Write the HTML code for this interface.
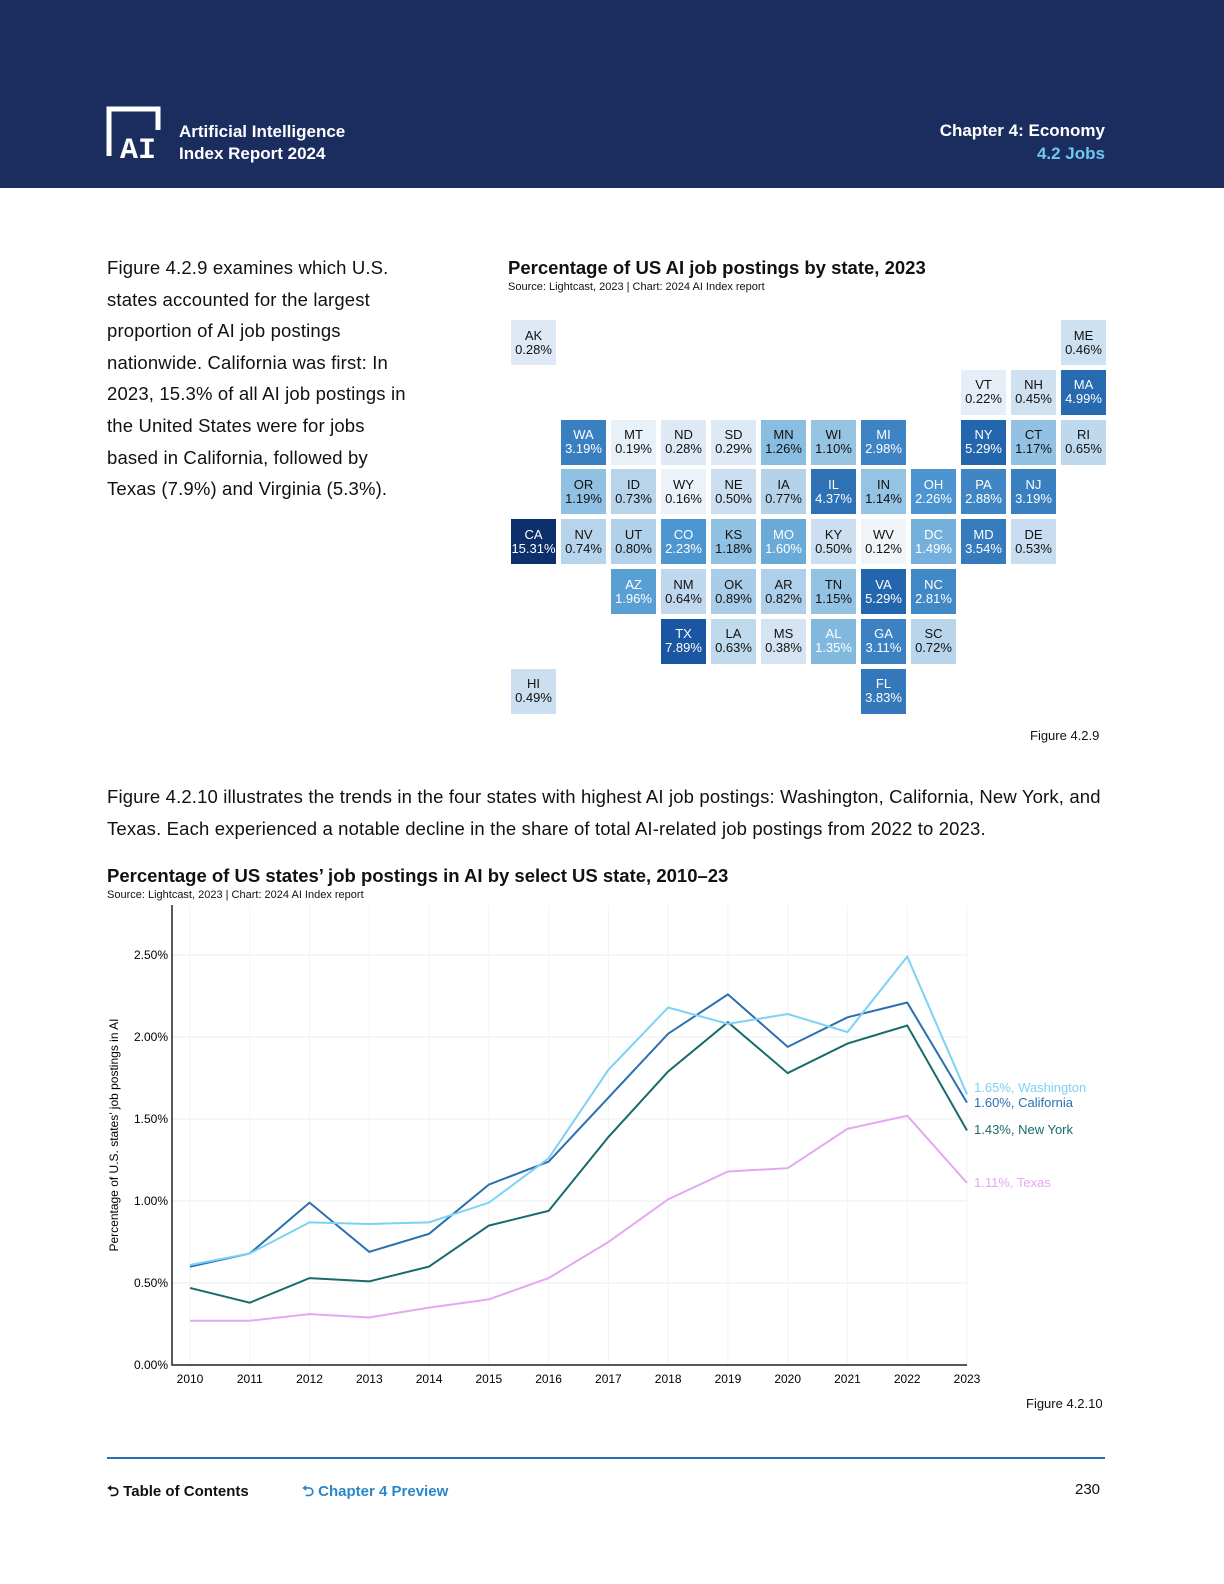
<!DOCTYPE html>
<html><head><meta charset="utf-8">
<style>
body{margin:0;width:1224px;height:1584px;position:relative;background:#fff;font-family:"Liberation Sans",sans-serif;color:#111;overflow:hidden}
.hdr{position:absolute;left:0;top:0;width:1224px;height:188px;background:#1b2d5f}
.abs{position:absolute}
.tile{position:absolute;width:45px;height:45px;font-size:13px;line-height:14px;text-align:center;display:flex;flex-direction:column;justify-content:center}
.p{font-size:18.5px;line-height:31.6px;letter-spacing:0.15px}
</style></head><body>
<div class="hdr">
  <svg class="abs" style="left:106px;top:106px" width="62" height="54">
    <path d="M3 50 V3 H52 V24" stroke="#fff" stroke-width="5" fill="none"/>
    <text x="14" y="52" fill="#fff" font-size="30" font-weight="bold" font-family="Liberation Mono,monospace">AI</text>
  </svg>
  <div class="abs" style="left:179px;top:121px;color:#fff;font-size:17px;font-weight:bold;line-height:22px">Artificial Intelligence<br>Index Report 2024</div>
  <div class="abs" style="right:119px;top:119px;color:#fff;font-size:17px;font-weight:bold;text-align:right;line-height:23px">Chapter 4: Economy<br><span style="color:#6fc6ef">4.2 Jobs</span></div>
</div>

<div class="abs p" style="left:107px;top:252px;width:300px">Figure 4.2.9 examines which U.S. states accounted for the largest proportion of AI job postings nationwide. California was first: In 2023, 15.3% of all AI job postings in the United States were for jobs based in California, followed by Texas (7.9%) and Virginia (5.3%).</div>

<div class="abs" style="left:508px;top:257px;font-size:18.5px;font-weight:bold">Percentage of US AI job postings by state, 2023</div>
<div class="abs" style="left:508px;top:281px;font-size:11px">Source: Lightcast, 2023 | Chart: 2024 AI Index report</div>
<div id="map"></div>
<div class="abs" style="left:1030px;top:728px;font-size:13px">Figure 4.2.9</div>

<div class="abs p" style="left:107px;top:781px;width:1005px">Figure 4.2.10 illustrates the trends in the four states with highest AI job postings: Washington, California, New York, and Texas. Each experienced a notable decline in the share of total AI-related job postings from 2022 to 2023.</div>

<div class="abs" style="left:107px;top:865px;font-size:18.5px;font-weight:bold">Percentage of US states’ job postings in AI by select US state, 2010–23</div>
<div class="abs" style="left:107px;top:889px;font-size:11px">Source: Lightcast, 2023 | Chart: 2024 AI Index report</div>
<svg id="lc" class="abs" style="left:0;top:0" width="1224" height="1584"></svg>
<div class="abs" style="left:1026px;top:1396px;font-size:13px">Figure 4.2.10</div>

<div class="abs" style="left:107px;top:1457px;width:998px;height:2px;background:#2a6fb0"></div>
<div class="abs" style="left:107px;top:1481px;font-size:15px;font-weight:bold">⮌ Table of Contents</div>
<div class="abs" style="left:302px;top:1481px;font-size:15px;font-weight:bold;color:#2a86c8">⮌ Chapter 4 Preview</div>
<div class="abs" style="left:1075px;top:1481px;font-size:15px">230</div>

<script>
const states=["AK","ME","VT","NH","MA","WA","MT","ND","SD","MN","WI","MI","NY","CT","RI","OR","ID","WY","NE","IA","IL","IN","OH","PA","NJ","CA","NV","UT","CO","KS","MO","KY","WV","DC","MD","DE","AZ","NM","OK","AR","TN","VA","NC","TX","LA","MS","AL","GA","SC","HI","FL"];
const shares=[0.28,0.46,0.22,0.45,4.99,3.19,0.19,0.28,0.29,1.26,1.10,2.98,5.29,1.17,0.65,1.19,0.73,0.16,0.50,0.77,4.37,1.14,2.26,2.88,3.19,15.31,0.74,0.80,2.23,1.18,1.60,0.50,0.12,1.49,3.54,0.53,1.96,0.64,0.89,0.82,1.15,5.29,2.81,7.89,0.63,0.38,1.35,3.11,0.72,0.49,3.83];
const gridCols=[0,11,9,10,11,1,2,3,4,5,6,7,9,10,11,1,2,3,4,5,6,7,8,9,10,0,1,2,3,4,5,6,7,8,9,10,2,3,4,5,6,7,8,3,4,5,6,7,8,0,7];
const gridRows=[0,0,1,1,1,2,2,2,2,2,2,2,2,2,2,3,3,3,3,3,3,3,3,3,3,4,4,4,4,4,4,4,4,4,4,4,5,5,5,5,5,5,5,6,6,6,6,6,6,7,7];
const stops=[[0.1,[242,246,251]],[0.3,[220,232,244]],[0.6,[194,218,238]],[1.2,[143,192,226]],[1.6,[106,170,216]],[2.3,[74,148,207]],[3.2,[58,127,192]],[5.3,[36,102,173]],[8,[26,85,160]],[15.3,[13,47,107]]];
function col(v){for(let i=0;i<stops.length-1;i++){const a=stops[i],b=stops[i+1];if(v<=b[0]){const t=Math.max(0,(v-a[0])/(b[0]-a[0]));return 'rgb('+a[1].map((c,k)=>Math.round(c+(b[1][k]-c)*t)).join(',')+')';}}return 'rgb(13,47,107)';}
const map=document.getElementById('map');
states.forEach((s,i)=>{const d=document.createElement('div');d.className='tile';


d.style.left=(511+50*gridCols[i])+'px';d.style.top=(320+49.8*gridRows[i])+'px';
d.style.background=col(shares[i]);d.style.color=shares[i]>=1.3?'#fff':'#111';
d.innerHTML=s+'<br>'+shares[i].toFixed(2)+'%';map.appendChild(d);});

const years=[2010,2011,2012,2013,2014,2015,2016,2017,2018,2019,2020,2021,2022,2023];
const washington=[0.61,0.68,0.87,0.86,0.87,0.99,1.26,1.80,2.18,2.08,2.14,2.03,2.49,1.65];
const california=[0.60,0.68,0.99,0.69,0.80,1.10,1.24,1.63,2.02,2.26,1.94,2.12,2.21,1.60];
const newYork=[0.47,0.38,0.53,0.51,0.60,0.85,0.94,1.39,1.79,2.09,1.78,1.96,2.07,1.43];
const texas=[0.27,0.27,0.31,0.29,0.35,0.40,0.53,0.75,1.01,1.18,1.20,1.44,1.52,1.11];
const yTicks=[0,0.5,1,1.5,2,2.5];
const NS='http://www.w3.org/2000/svg',svg=document.getElementById('lc');
const X=y=>190+(y-2010)*(967-190)/13, Y=v=>1365-v*164;
function el(t,a,txt){const e=document.createElementNS(NS,t);for(const k in a)e.setAttribute(k,a[k]);if(txt!=null)e.textContent=txt;svg.appendChild(e);return e;}
yTicks.forEach(t=>{const g=el('line',{x1:172,x2:967,y1:Y(t),y2:Y(t),stroke:'#eee'});


const l=el('text',{x:168,y:Y(t)+4,'text-anchor':'end','font-size':12},t.toFixed(2)+'%');

});
years.forEach(y=>{const g=el('line',{x1:X(y),x2:X(y),y1:905,y2:1365,stroke:'#f3f3f3'});


const l=el('text',{x:X(y),y:1383,'text-anchor':'middle','font-size':12},y);

});
const ax=el('path',{d:'M172 905 V1365 H967',stroke:'#222','stroke-width':1.5,fill:'none'});


const yt=el('text',{transform:'translate(118,1135) rotate(-90)','text-anchor':'middle','font-size':12},'Percentage of U.S. states’ job postings in AI');


const series=[[texas,'#e3a8f2','1.11%, Texas',1187,'texas'],[newYork,'#176b6b','1.43%, New York',1134,'new-york'],[california,'#2a6fb0','1.60%, California',1107,'california'],[washington,'#7dd1f5','1.65%, Washington',1092,'washington']];
series.forEach(s=>{const p=el('polyline',{points:s[0].map((v,i)=>X(years[i])+','+Y(v)).join(' '),fill:'none',stroke:s[1],'stroke-width':2});


const l=el('text',{x:974,y:s[3],'font-size':13,fill:s[1]},s[2]);

});
</script>
</body></html>
